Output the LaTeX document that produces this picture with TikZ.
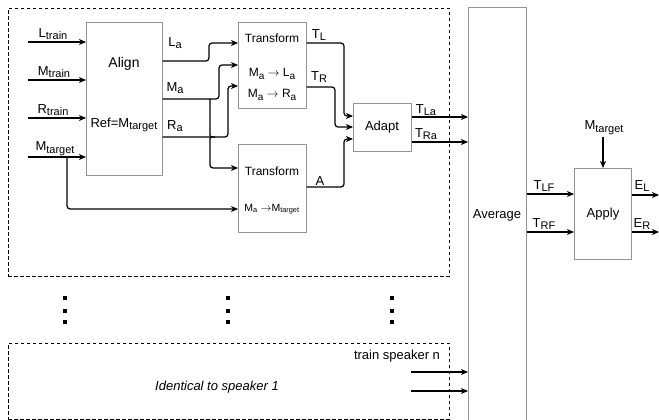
\documentclass[tikz,border=0pt]{standalone}
\usepackage{fontspec}
\setmainfont{Liberation Sans}
\usetikzlibrary{arrows.meta,positioning}
\newcommand{\lowsub}[1]{\raisebox{-0.4ex}{\fontsize{11}{13}\selectfont #1}}
\newcommand{\smallsub}[1]{\raisebox{-0.4ex}{\fontsize{10}{12}\selectfont #1}}

\begin{document}
\begin{tikzpicture}[x=1pt, y=-1pt, >={Stealth[length=7pt,width=6pt,inset=2pt]},
  box/.style={draw=gray!85, line width=0.6pt, inner sep=0pt, anchor=north west},
  group/.style={draw, dash pattern=on 3.5pt off 2.5pt, line width=0.9pt, inner sep=0pt, anchor=north west},
  wire/.style={->, line width=1.2pt, rounded corners=3pt},
  lbl/.style={inner sep=0pt, font=\fontsize{13}{15}\selectfont},
  tflbl/.style={inner sep=0pt, font=\fontsize{12}{14}\selectfont}]
\useasboundingbox (0,0) rectangle (659,420);

% Dashed groups for speaker 1 and speaker n
\node[group, minimum width=441, minimum height=268] (spkone) at (8,8) {};
\node[group, minimum width=441, minimum height=76] (spkn) at (8,343) {};

% Processing blocks
\node[box, minimum width=76, minimum height=153] (align) at (86,22) {};
\node[box, minimum width=68, minimum height=86] (tfone) at (238,22) {};
\node[box, minimum width=68, minimum height=88] (tftwo) at (238,144) {};
\node[box, minimum width=58, minimum height=48] (adapt) at (353,103) {};
\node[box, minimum width=58, minimum height=420] (avg) at (468,7) {};
\node[box, minimum width=57, minimum height=91] (apply) at (574,168) {};

% Texts inside the blocks
\node[lbl, font=\fontsize{14}{16}\selectfont] (aligntxt) at (124,64) {Align};
\node[lbl] (reftxt) at (124,125) {Ref=M\lowsub{target}};
\node[tflbl] (tfonetxt) at (272,38) {Transform};
\node[tflbl] (maltxt) at (272,74) {M\smallsub{a} $\rightarrow$ L\smallsub{a}};
\node[tflbl] (martxt) at (272,95) {M\smallsub{a} $\rightarrow$ R\smallsub{a}};
\node[tflbl] (tftwotxt) at (272,171) {Transform};
\node[lbl, font=\fontsize{10.5}{12}\selectfont] (mamttxt) at (272,209) {M\textsubscript{a} $\rightarrow$M\textsubscript{target}};
\node[lbl] (adapttxt) at (382,127) {Adapt};
\node[lbl] (avgtxt) at (497,215) {Average};
\node[lbl] (applytxt) at (603,214) {Apply};

% Inputs of Align
\coordinate (ltrain) at (28,42);
\coordinate (mtrain) at (28,80);
\coordinate (rtrain) at (28,118);
\coordinate (mtarget) at (28,157);
\draw[wire] (ltrain) -- (align.west |- ltrain);
\draw[wire] (mtrain) -- (align.west |- mtrain);
\draw[wire] (rtrain) -- (align.west |- rtrain);
\draw[wire] (mtarget) -- (align.west |- mtarget);
\node[lbl] (ltrainlbl) at (53,34) {L\lowsub{train}};
\node[lbl] (mtrainlbl) at (54,72) {M\lowsub{train}};
\node[lbl] (rtrainlbl) at (53,110) {R\lowsub{train}};
\node[lbl] (mtargetlbl) at (55,149) {M\lowsub{target}};

% Align to the two Transform blocks
\draw[wire] (align.east |- 0,61) -- (209,61) -- (209,43) -- (tfone.west |- 0,43);
\draw[wire] (align.east |- 0,99) -- (219,99) -- (219,65) -- (tfone.west |- 0,65);
\draw[wire] (align.east |- 0,137) -- (228,137) -- (228,86) -- (tfone.west |- 0,86);
\draw[wire] (210,99) -- (210,130) .. controls (210,137) .. (217,137)
  .. controls (210,137) .. (210,144) -- (210,168) -- (tftwo.west |- 0,168);
\draw[wire] (67,157) -- (67,209) -- (tftwo.west |- 0,209);
\node[lbl] (lalbl) at (175,43) {L\lowsub{a}};
\node[lbl] (malbl) at (175,88) {M\lowsub{a}};
\node[lbl] (ralbl) at (175,126) {R\lowsub{a}};

% Transform blocks to Adapt
\draw[wire] (tfone.east |- 0,43) -- (344,43) -- (344,116) -- (adapt.west |- 0,116);
\draw[wire] (tfone.east |- 0,87) -- (335,87) -- (335,127) -- (adapt.west |- 0,127);
\draw[wire] (tftwo.east |- 0,187) -- (344,187) -- (344,139) -- (adapt.west |- 0,139);
\node[lbl] (tllbl) at (319,35) {T\lowsub{L}};
\node[lbl] (trlbl) at (319,77) {T\lowsub{R}};
\node[lbl] (albl) at (320,181) {A};

% Adapt to Average
\draw[wire] (adapt.east |- 0,117) -- (avg.west |- 0,117);
\draw[wire] (adapt.east |- 0,142) -- (avg.west |- 0,142);
\node[lbl] (tlalbl) at (426,110) {T\lowsub{La}};
\node[lbl] (tralbl) at (426,134) {T\lowsub{Ra}};

% Average to Apply, and the outputs
\draw[wire] (avg.east |- 0,194) -- (apply.west |- 0,194);
\draw[wire] (avg.east |- 0,232) -- (apply.west |- 0,232);
\node[lbl] (tlflbl) at (544,186) {T\lowsub{LF}};
\node[lbl] (trflbl) at (544,224) {T\lowsub{RF}};
\coordinate (mtop) at (603,137);
\draw[wire] (mtop) -- (apply.north -| mtop);
\node[lbl] (mtoplbl) at (604,128) {M\lowsub{target}};
\coordinate (elout) at (659,195);
\coordinate (erout) at (659,232);
\draw[wire] (apply.east |- elout) -- (elout);
\draw[wire] (apply.east |- erout) -- (erout);
\node[lbl] (ellbl) at (642,186) {E\lowsub{L}};
\node[lbl] (erlbl) at (642,224) {E\lowsub{R}};

% Speaker n
\node[lbl] (spkntxt) at (397,356) {train speaker n};
\node[lbl, font=\fontsize{13}{15}\itshape] (identtxt) at (217,387) {Identical to speaker 1};
\coordinate (tlan) at (411,372);
\coordinate (tran) at (411,391);
\draw[wire] (tlan) -- (avg.west |- tlan);
\draw[wire] (tran) -- (avg.west |- tran);

% Dots between the speakers
\foreach \dx in {65,228,392}
  \foreach \dy in {298,311,322}
    \fill (\dx-1.7,\dy-1.7) rectangle (\dx+1.7,\dy+1.7);
\end{tikzpicture}
\end{document}
